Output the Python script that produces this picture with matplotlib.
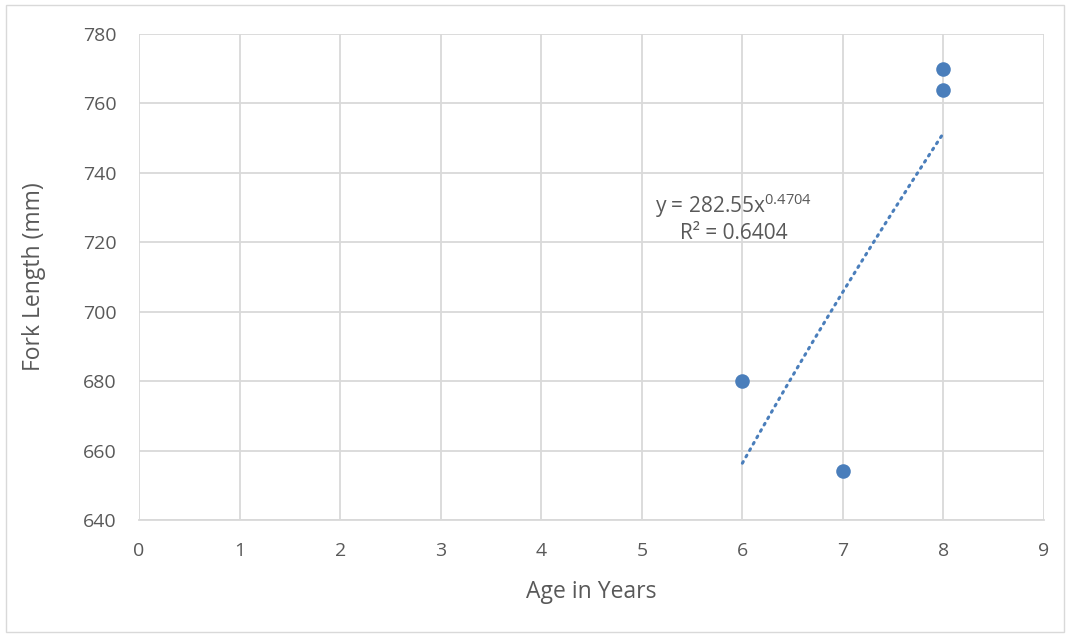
import numpy as np
import matplotlib
matplotlib.use("Agg")
import matplotlib.pyplot as plt
from matplotlib.patches import Rectangle

plt.rcParams['font.family'] = ['Open Sans', 'DejaVu Sans']
plt.rcParams['mathtext.default'] = 'regular'

# data
age = [6, 7, 8, 8]
fork_length = [680, 654, 770, 764]

# power trendline shown in the chart
coef_a = 282.55
coef_b = 0.4704
r_squared = 0.6404

x_ticks = list(range(0, 10))
y_ticks = list(range(640, 781, 20))

text_gray = '#595959'
grid_gray = '#d9d9d9'
blue = '#4a7ebb'

fig = plt.figure(figsize=(10.7, 6.37), dpi=100)
ax = fig.add_axes([0.130, 0.1837, 0.8457, 0.7629])

# outer chart frame
fig.patches.append(Rectangle((6 / 1070, 5 / 637), 1058 / 1070, 627 / 637,
                             transform=fig.transFigure, fill=False,
                             edgecolor=grid_gray, linewidth=1))

tx = np.linspace(min(age), max(age), 100)
ty = coef_a * tx ** coef_b
ax.plot(tx, ty, color=blue, linewidth=2.2, linestyle=(0, (0.6, 1.8)),
        dash_capstyle='round', zorder=2)

ax.scatter(age, fork_length, s=110, color=blue, zorder=3, linewidths=0)

ax.set_xlim(0, 9)
ax.set_ylim(640, 780)
ax.set_xticks(x_ticks)
ax.set_yticks(y_ticks)
ax.grid(True, color=grid_gray, linewidth=1.3)
ax.set_axisbelow(True)
for side in ['top', 'right', 'left']:
    ax.spines[side].set_visible(False)
ax.spines['bottom'].set_color(grid_gray)
ax.spines['bottom'].set_linewidth(1.3)
ax.tick_params(length=0, labelsize=14, colors=text_gray, pad=16)

ax.set_xlabel('Age in Years', fontsize=16.5, color=text_gray, labelpad=14.5)
ax.set_ylabel('Fork Length (mm)', fontsize=16.5, color=text_gray, labelpad=26.5)

ax.text(5.91, 730.5, 'y = %.2fx$^{%.4f}$' % (coef_a, coef_b), fontsize=15,
        color=text_gray, ha='center', va='center')
ax.text(5.91, 722.5, 'R² = %.4f' % r_squared, fontsize=15,
        color=text_gray, ha='center', va='center')

fig.savefig('out.png', dpi=100)
